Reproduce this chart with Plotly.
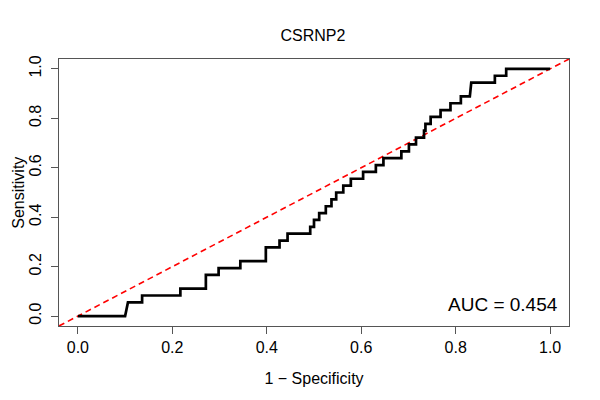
import plotly.graph_objects as go

# ROC curve vertices (1 - specificity, sensitivity)
fpr = [0.000, 0.100, 0.103, 0.106, 0.136, 0.136, 0.217, 0.217, 0.271, 0.271,
       0.298, 0.298, 0.344, 0.344, 0.398, 0.398, 0.427, 0.427, 0.444, 0.444,
       0.492, 0.492, 0.500, 0.500, 0.511, 0.511, 0.525, 0.525, 0.537, 0.537,
       0.547, 0.547, 0.562, 0.562, 0.578, 0.578, 0.604, 0.604, 0.631, 0.631,
       0.647, 0.647, 0.685, 0.685, 0.701, 0.701, 0.716, 0.716, 0.733, 0.733,
       0.736, 0.736, 0.747, 0.747, 0.768, 0.768, 0.789, 0.789, 0.811, 0.811,
       0.830, 0.833, 0.883, 0.883, 0.907, 0.907, 1.000]
n_pos = 36
tpr_counts = [0, 0, 1, 2, 2, 3, 3, 4, 4, 6,
              6, 7, 7, 8, 8, 10, 10, 11, 11, 12,
              12, 13, 13, 14, 14, 15, 15, 16, 16, 17,
              17, 18, 18, 19, 19, 20, 20, 21, 21, 22,
              22, 23, 23, 24, 24, 25, 25, 26, 26, 27,
              27, 28, 28, 29, 29, 30, 30, 31, 31, 32,
              32, 34, 34, 35, 35, 36, 36]
tpr = [c / n_pos for c in tpr_counts]

diag = [-0.04, 1.04]
tick_vals = [0.0, 0.2, 0.4, 0.6, 0.8, 1.0]
tick_text = ["0.0", "0.2", "0.4", "0.6", "0.8", "1.0"]
auc_label = "AUC = 0.454"
title_text = "CSRNP2"
x_title = "1 − Specificity"
y_title = "Sensitivity"

FONT = "Liberation Sans, Arial, Helvetica, sans-serif"

fig = go.Figure()
fig.add_trace(go.Scatter(x=diag, y=diag, mode="lines",
                         line=dict(color="#ff0000", width=1.6, dash="6px,4px"),
                         hoverinfo="skip", showlegend=False))
fig.add_trace(go.Scatter(x=fpr, y=tpr, mode="lines",
                         line=dict(color="black", width=2.7),
                         showlegend=False))

fig.add_annotation(text=auc_label, xref="paper", yref="paper",
                   x=0.982, y=0.082, xanchor="right", yanchor="middle",
                   showarrow=False, font=dict(family=FONT, size=19, color="black"))
fig.add_annotation(text=y_title, xref="paper", yref="paper",
                   x=-0.08, y=0.5, xanchor="center", yanchor="middle", textangle=-90,
                   showarrow=False, font=dict(family=FONT, size=16, color="black"))

axis_common = dict(range=[-0.04, 1.04], tickvals=tick_vals, ticktext=tick_text,
                   ticks="outside", ticklen=7, tickwidth=1, tickcolor="#555555",
                   showline=True, linecolor="#555555", linewidth=1, mirror=True,
                   showgrid=False, zeroline=False, automargin=False,
                   tickfont=dict(family=FONT, size=16, color="black"))

# page body has an 8px margin, so the figure is drawn 8px in from the window edge
fig.update_layout(
    width=592, height=392,
    margin=dict(l=51, r=31, t=51, b=74),
    paper_bgcolor="white", plot_bgcolor="white",
    title=dict(text=title_text, x=0.515, xanchor="center", y=0.929, yanchor="middle",
               font=dict(family=FONT, size=16, color="black")),
    xaxis=dict(**axis_common,
               title=dict(text=x_title, standoff=17,
                          font=dict(family=FONT, size=16, color="black"))),
    yaxis=dict(**axis_common, tickangle=-90, ticklabelstandoff=4),
)

fig.write_html("out.html")
